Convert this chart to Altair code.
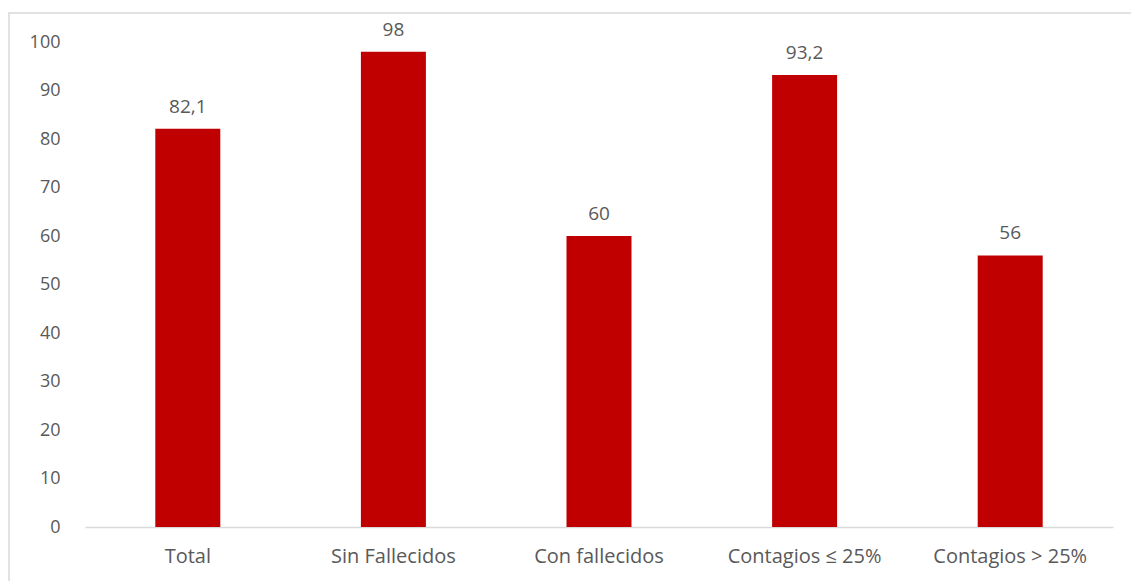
import altair as alt
import pandas as pd

categories = ["Total", "Sin Fallecidos", "Con fallecidos", "Contagios ≤ 25%", "Contagios > 25%"]
values = [82.1, 98, 60, 93.2, 56]
labels = ["82,1", "98", "60", "93,2", "56"]
y_ticks = [0, 10, 20, 30, 40, 50, 60, 70, 80, 90, 100]

df = pd.DataFrame({"cat": categories, "val": values, "lab": labels})

FONT = "Open Sans"
GRAY = "#595959"

x_enc = alt.X("cat:N", sort=categories, title=None,
              scale=alt.Scale(paddingInner=0, paddingOuter=0),
              axis=alt.Axis(labelAngle=0, labelFontSize=20, labelColor=GRAY, labelFont=FONT,
                            domainColor="#d9d9d9", domainWidth=1.5, ticks=False, labelPadding=19))
y_enc = alt.Y("val:Q", title=None, scale=alt.Scale(domain=[0, 100], nice=False),
              axis=alt.Axis(values=y_ticks, grid=False, domain=False, ticks=False,
                            labelFontSize=18, labelColor=GRAY, labelFont=FONT, labelPadding=25))

bars = alt.Chart(df).mark_bar(color="#C00000", size=65).encode(x=x_enc, y=y_enc)
text = alt.Chart(df).mark_text(baseline="bottom", dy=-12, fontSize=19, font=FONT, color=GRAY).encode(
    x=alt.X("cat:N", sort=categories), y="val:Q", text="lab:N")

frame = alt.Chart(pd.DataFrame({"a": [0]})).mark_rect(fill=None, stroke="#d9d9d9", strokeWidth=1.5).encode(
    x=alt.value(-76), x2=alt.value(1060), y=alt.value(-29), y2=alt.value(560))

chart = alt.layer(frame, bars, text).properties(
    width=1028, height=485,
    background="white",
    autosize=alt.AutoSizeParams(type="none"),
    padding={"left": 85, "top": 42, "right": 18, "bottom": 54},
).configure_view(stroke=None)

chart.save("out.html", embed_options={"renderer": "svg", "actions": False})
